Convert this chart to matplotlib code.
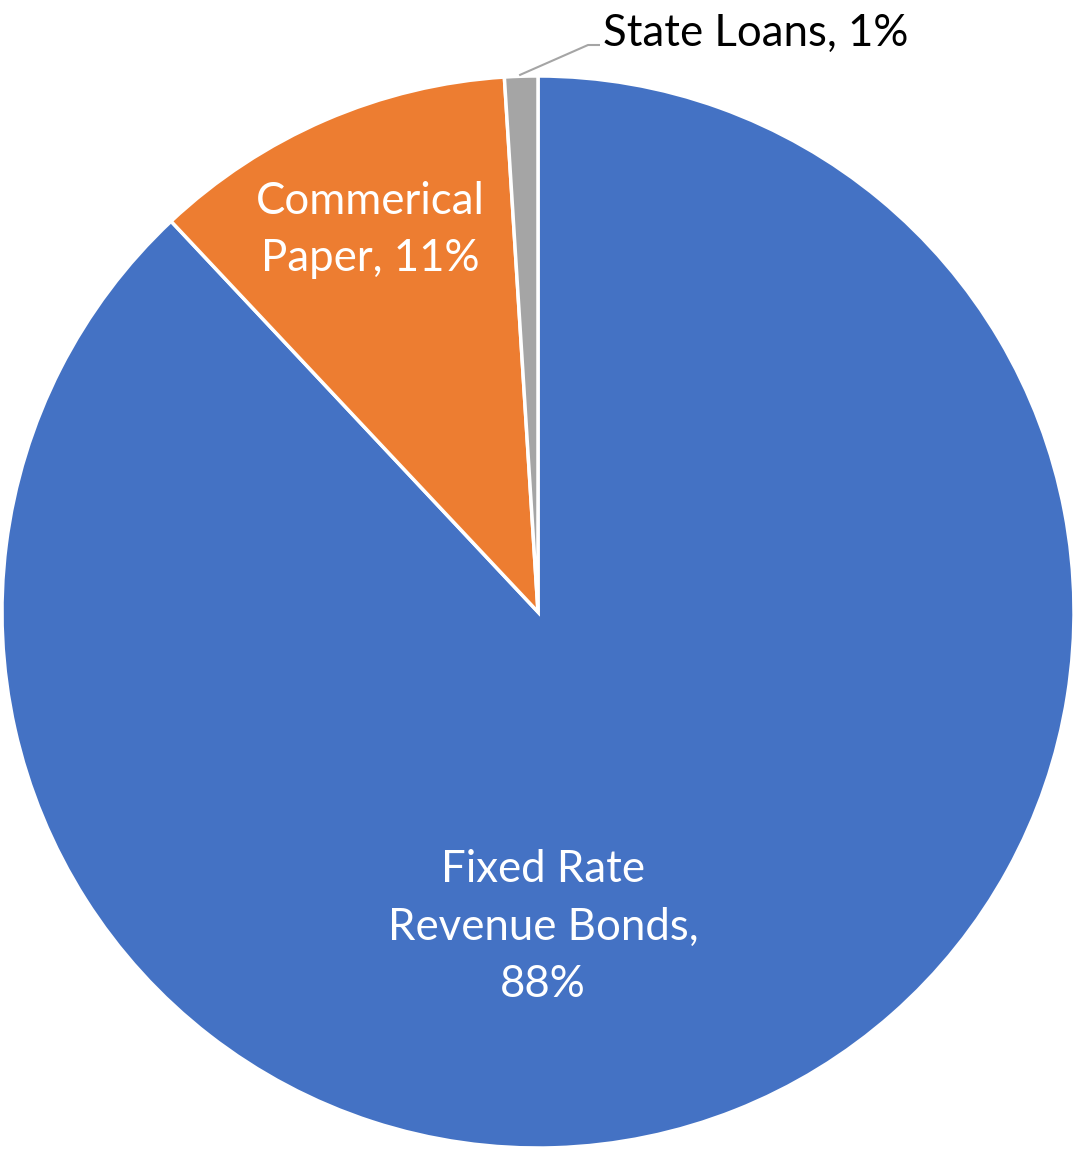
import matplotlib.pyplot as plt
import numpy as np

labels = ['Fixed Rate\nRevenue Bonds,\n88%', 'Commerical\nPaper, 11%', 'State Loans, 1%']
values = [88, 11, 1]
colors = ['#4472C4', '#ED7D31', '#A5A5A5']

W, H = 1081, 1153
fig = plt.figure(figsize=(W / 100, H / 100), dpi=100)
ax = fig.add_axes([0, 0, 1, 1])

cx, cy, r = 538, H - 612, 536
wedges, _ = ax.pie(values, colors=colors, startangle=90, counterclock=False,
                   center=(cx, cy), radius=r, frame=True,
                   wedgeprops=dict(edgecolor='white', linewidth=2.5))
ax.set_xlim(0, W)
ax.set_ylim(0, H)
ax.set_aspect('equal')
ax.axis('off')

font = 'Lato'
fs = 31.5
ax.text(543, H - 927, labels[0], ha='center', va='center', color='white',
        fontsize=fs, family=font, linespacing=1.5)
ax.text(370, H - 230, labels[1], ha='center', va='center', color='white',
        fontsize=fs, family=font, linespacing=1.5)

# leader line for the small slice
w = wedges[2]
mid = np.deg2rad((w.theta1 + w.theta2) / 2)
x0, y0 = cx + r * np.cos(mid), cy + r * np.sin(mid)
ax.plot([x0 - 2, 588, 600], [y0 + 1, H - 45, H - 45], color='#A5A5A5', lw=1.5,
        solid_capstyle='butt')
ax.text(603, H - 33, labels[2], ha='left', va='center', color='black',
        fontsize=fs, family=font)

fig.savefig('out.png', dpi=100)
